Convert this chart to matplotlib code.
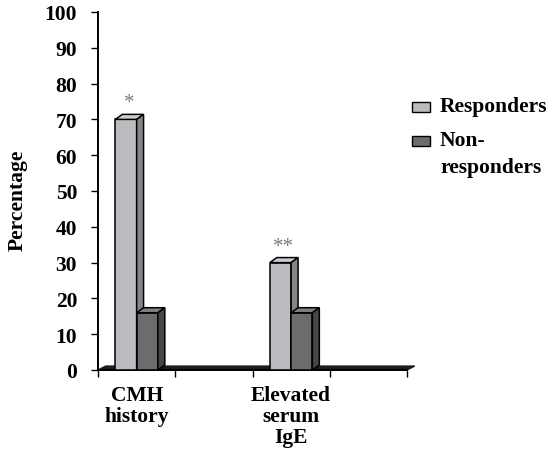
import numpy as np
import matplotlib
matplotlib.use("Agg")
import matplotlib.pyplot as plt
from matplotlib.patches import Polygon, Rectangle

# data
CATEGORIES = ["CMH\nhistory", "", "Elevated\nserum\nIgE", ""]
RESPONDERS = [70, None, 30, None]
NON_RESPONDERS = [16, None, 16, None]
SIGNIFICANCE = ["*", None, "**", None]
SERIES_NAMES = ["Responders", "Non-\nresponders"]
Y_TICKS = [0, 10, 20, 30, 40, 50, 60, 70, 80, 90, 100]

FONT = "Liberation Serif"
COLORS = {
    "Responders": ("#bcbcc0", "#cfcfd2", "#858588"),
    "Non-responders": ("#6c6c6f", "#808083", "#464648"),
}

BAR_W = 0.275
DEPTH_X = 0.09
DEPTH_Y = 1.4
FS = 15.5

plt.rcParams["font.family"] = FONT

fig = plt.figure(figsize=(5.47, 4.56), dpi=100)
ax = fig.add_axes([98 / 547, 1 - 371 / 456, 309 / 547, 358 / 456])

ax.set_xlim(0, len(CATEGORIES))
ax.set_ylim(0, 100)


def bar3d(x0, h, cols):
    front, top, side = cols
    ax.bar(x0, h, width=BAR_W, align="edge", color=front, edgecolor="black",
           linewidth=1.1, zorder=3)
    ax.add_patch(Polygon([(x0, h), (x0 + BAR_W, h),
                          (x0 + BAR_W + DEPTH_X, h + DEPTH_Y), (x0 + DEPTH_X, h + DEPTH_Y)],
                         closed=True, facecolor=top, edgecolor="black",
                         linewidth=1.1, zorder=3))
    ax.add_patch(Polygon([(x0 + BAR_W, 0), (x0 + BAR_W + DEPTH_X, DEPTH_Y),
                          (x0 + BAR_W + DEPTH_X, h + DEPTH_Y), (x0 + BAR_W, h)],
                         closed=True, facecolor=side, edgecolor="black",
                         linewidth=1.1, zorder=3))


# floor of the 3d chart
n = len(CATEGORIES)
ax.add_patch(Polygon([(0, 0), (n, 0), (n + 0.1, 1.1), (0.1, 1.1)], closed=True,
                     facecolor="#1c1c1c", edgecolor="#1c1c1c", linewidth=1,
                     zorder=2, clip_on=False))

for i in range(n):
    c = i + 0.5
    if RESPONDERS[i] is not None:
        bar3d(c - BAR_W, RESPONDERS[i], COLORS["Responders"])
    if NON_RESPONDERS[i] is not None:
        bar3d(c, NON_RESPONDERS[i], COLORS["Non-responders"])
    if SIGNIFICANCE[i]:
        ax.text(c - BAR_W / 2 + DEPTH_X / 2, RESPONDERS[i] + 4.6, SIGNIFICANCE[i],
                ha="center", va="center", fontsize=15, color="#7a7a7a")

# axes styling
for s in ["top", "right"]:
    ax.spines[s].set_visible(False)
ax.spines["left"].set_linewidth(1.4)
ax.spines["bottom"].set_linewidth(1.4)

ax.set_yticks(Y_TICKS)
ax.set_yticklabels([str(t) for t in Y_TICKS], fontsize=FS, fontweight="bold")
ax.tick_params(axis="y", direction="out", length=5, width=1, pad=10)

ax.set_xticks(np.arange(n + 1))
ax.set_xticklabels([])
ax.tick_params(axis="x", which="major", direction="out", length=5, width=1)
ax.set_xticks(np.arange(n) + 0.5, minor=True)
ax.set_xticklabels(CATEGORIES, minor=True, fontsize=FS, fontweight="bold",
                   linespacing=1.05)
ax.tick_params(axis="x", which="minor", length=0, pad=11)

ax.set_ylabel("Percentage", fontsize=FS, fontweight="bold")
ax.yaxis.set_label_coords(-0.228, 0.478)

# legend drawn by hand to match the original layout
leg_y = [108, 142]
leg_cols = [COLORS["Responders"][0], COLORS["Non-responders"][0]]
for name, yy, col in zip(SERIES_NAMES, leg_y, leg_cols):
    fig.patches.append(Rectangle((412 / 547, 1 - (yy + 5) / 456), 18 / 547, 10 / 456,
                                 transform=fig.transFigure, facecolor=col,
                                 edgecolor="black", linewidth=1))
    fig.text(440 / 547, 1 - (yy - 11) / 456, name, ha="left", va="top",
             fontsize=FS, fontweight="bold", linespacing=1.45)

fig.savefig("out.png", dpi=100, facecolor="white")
